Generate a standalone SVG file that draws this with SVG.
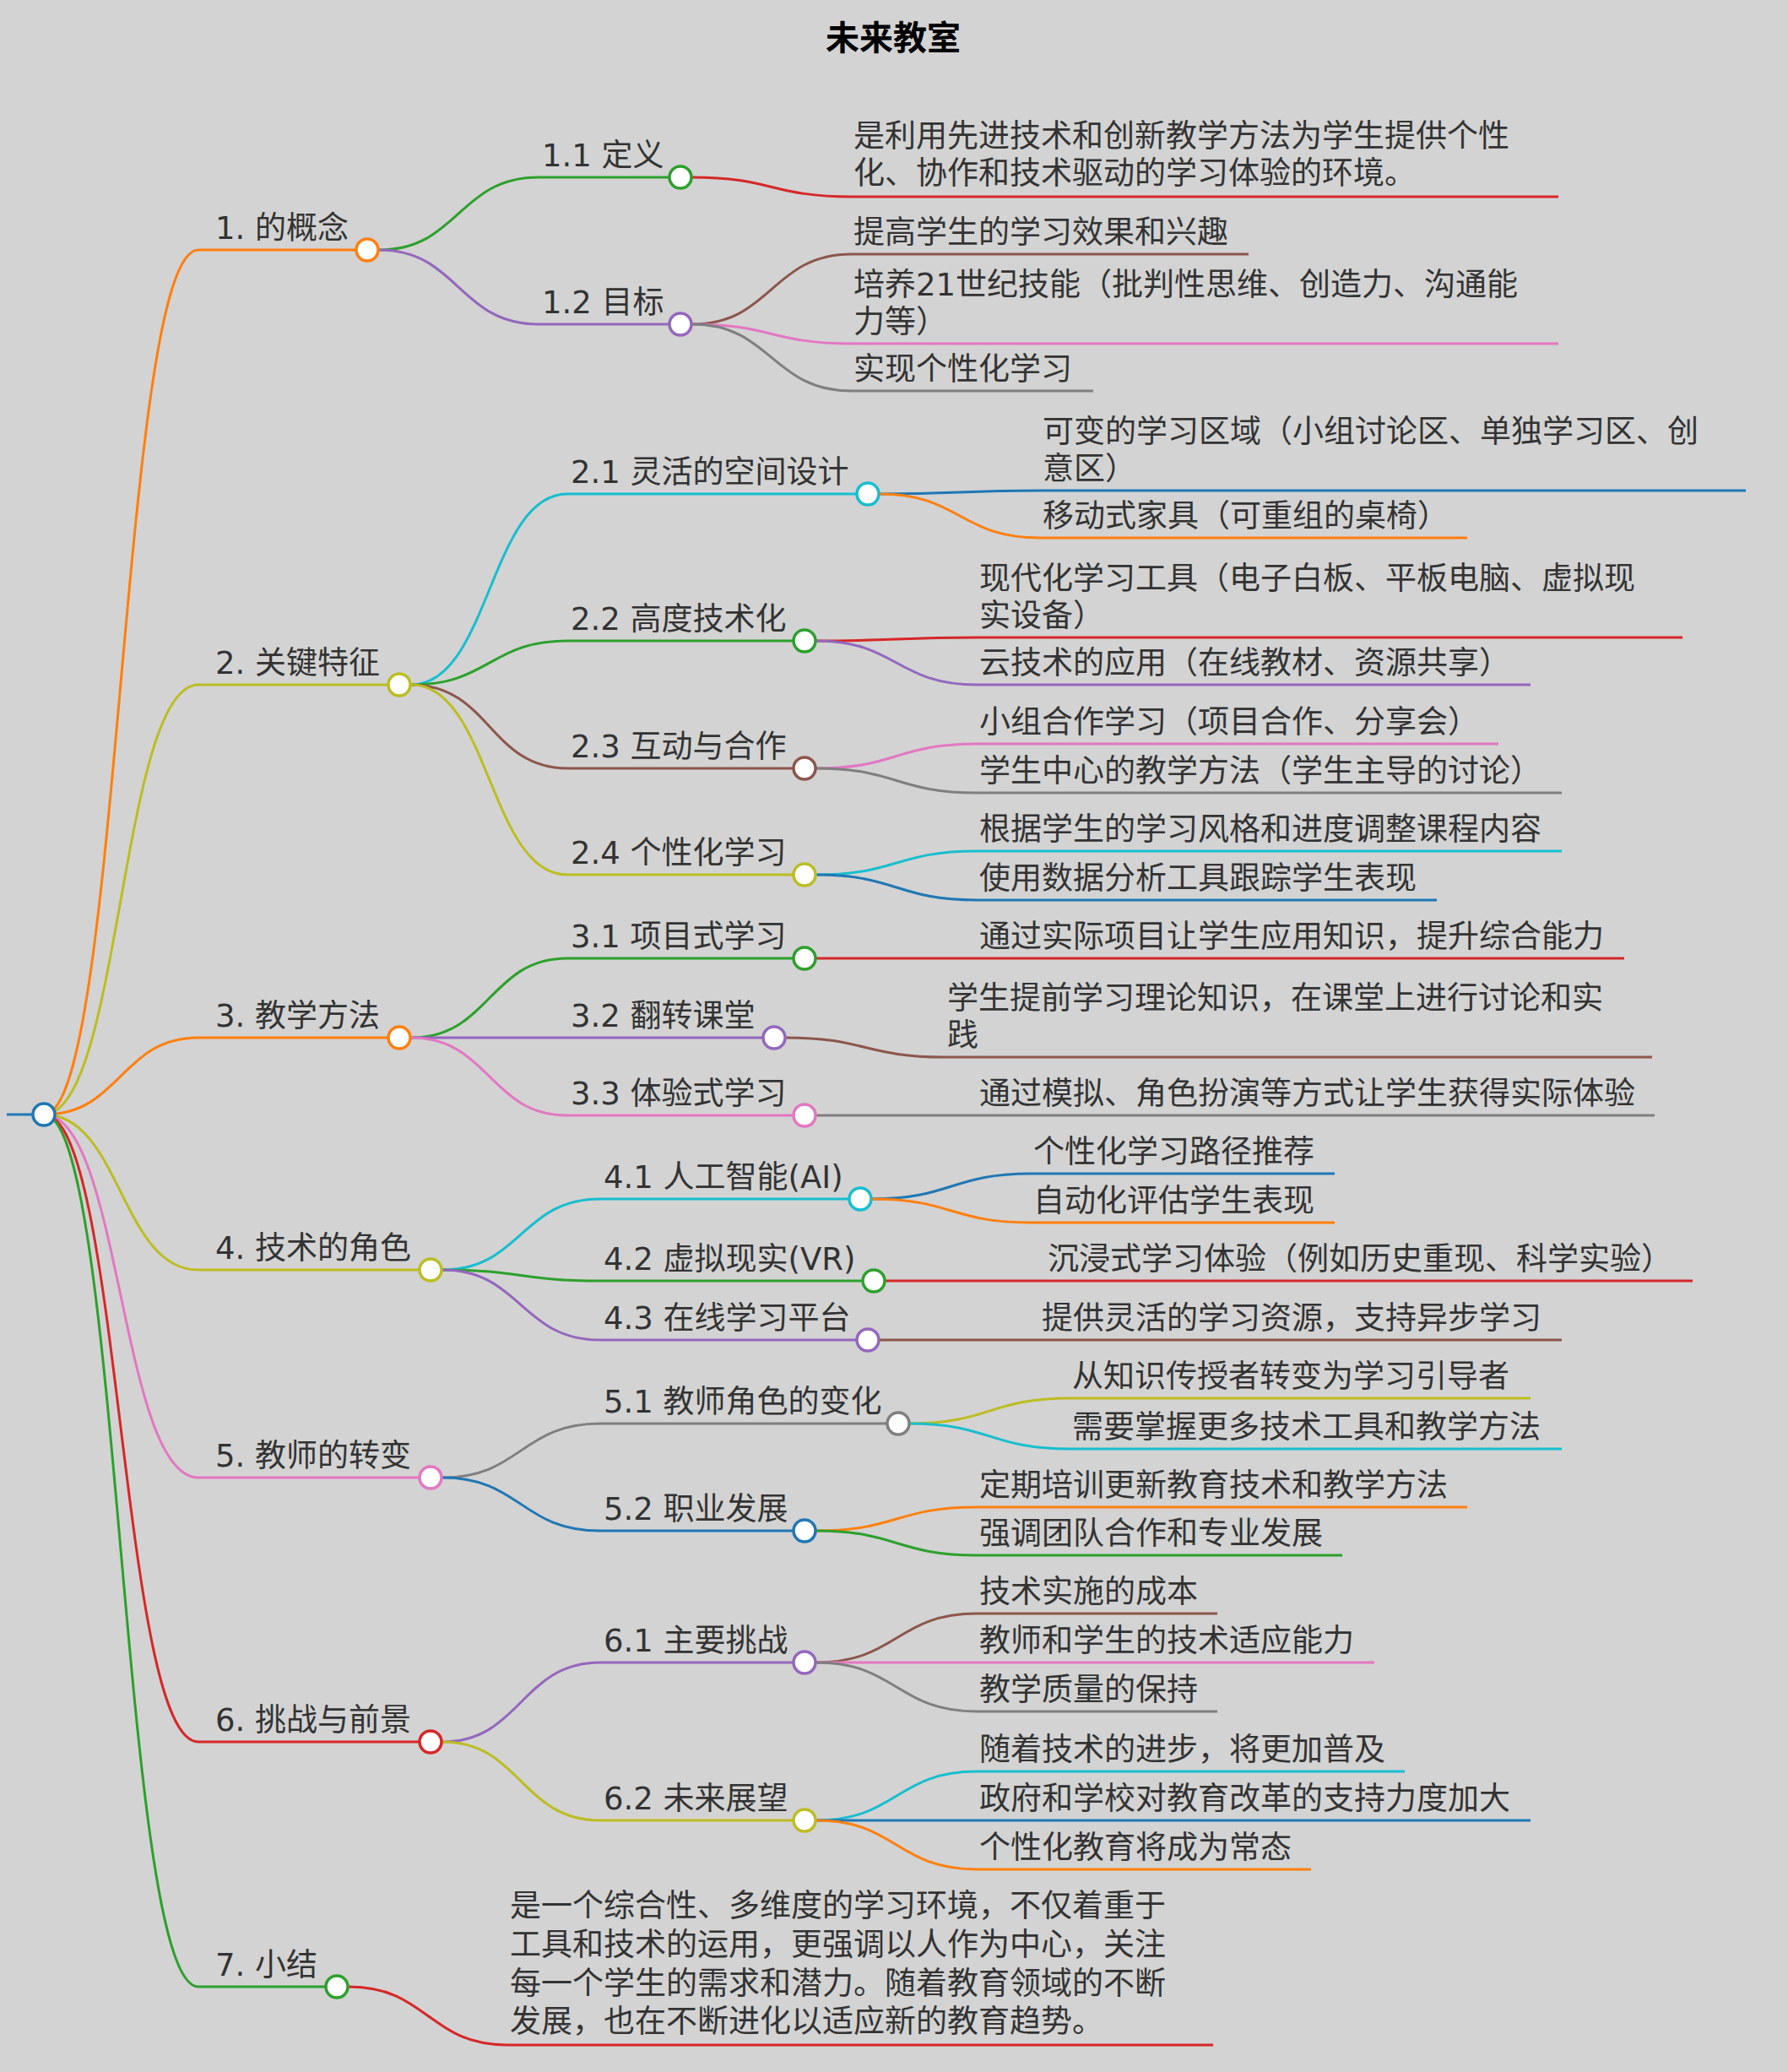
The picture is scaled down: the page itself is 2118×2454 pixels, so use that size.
<svg xmlns="http://www.w3.org/2000/svg" width="2118" height="2454" viewBox="0 0 2118 2454">
<style>
text{font-family:"DejaVu Sans","Noto Sans CJK SC",sans-serif;font-size:37px;fill:#333}
.t{font-size:40px;font-weight:bold;fill:#000;text-anchor:middle}
path{fill:none;stroke-width:3}
circle{fill:#fff;stroke-width:3.5}
.bl{stroke:#1f77b4}.or{stroke:#ff7f0e}.gr{stroke:#2ca02c}.rd{stroke:#d62728}.pu{stroke:#9467bd}.br{stroke:#8c564b}.pk{stroke:#e377c2}.gy{stroke:#7f7f7f}.ol{stroke:#bcbd22}.cy{stroke:#17becf}
</style>
<rect width="2118" height="2454" fill="#d3d3d3"/>
<text class="t" x="1058" y="59">未来教室</text>
<g id="connectors">
<path class="bl" d="M8,1320 H38"/>
<path class="or" d="M52,1320 C143,1320 143,296 235,296 H421"/>
<path class="ol" d="M52,1320 C143,1320 143,811 235,811 H459"/>
<path class="or" d="M52,1320 C143,1320 143,1229 235,1229 H459"/>
<path class="ol" d="M52,1320 C143,1320 143,1504 235,1504 H496"/>
<path class="pk" d="M52,1320 C143,1320 143,1750 235,1750 H496"/>
<path class="rd" d="M52,1320 C143,1320 143,2063 235,2063 H496"/>
<path class="gr" d="M52,1320 C143,1320 143,2353 235,2353 H385"/>
<path class="gr" d="M449,296 C543,296 543,210 638,210 H792"/>
<path class="pu" d="M449,296 C543,296 543,384 638,384 H792"/>
<path class="rd" d="M820,210 C914,210 914,233 1009,233 H1846"/>
<path class="br" d="M820,384 C914,384 914,301 1009,301 H1479"/>
<path class="pk" d="M820,384 C914,384 914,407 1009,407 H1846"/>
<path class="gy" d="M820,384 C914,384 914,463 1009,463 H1295"/>
<path class="cy" d="M487,811 C580,811 580,585 672,585 H1014"/>
<path class="gr" d="M487,811 C580,811 580,759 672,759 H939"/>
<path class="br" d="M487,811 C580,811 580,910 672,910 H939"/>
<path class="ol" d="M487,811 C580,811 580,1036 672,1036 H939"/>
<path class="bl" d="M1042,585 C1137,585 1137,581 1232,581 H2068"/>
<path class="or" d="M1042,585 C1137,585 1137,637 1232,637 H1738"/>
<path class="rd" d="M967,759 C1062,759 1062,755 1157,755 H1993"/>
<path class="pu" d="M967,759 C1062,759 1062,811 1157,811 H1813"/>
<path class="pk" d="M967,910 C1062,910 1062,881 1157,881 H1775"/>
<path class="gy" d="M967,910 C1062,910 1062,939 1157,939 H1850"/>
<path class="cy" d="M967,1036 C1062,1036 1062,1008 1157,1008 H1850"/>
<path class="bl" d="M967,1036 C1062,1036 1062,1066 1157,1066 H1702"/>
<path class="gr" d="M487,1229 C580,1229 580,1135 672,1135 H939"/>
<path class="pu" d="M487,1229 H903"/>
<path class="pk" d="M487,1229 C580,1229 580,1321 672,1321 H939"/>
<path class="rd" d="M967,1135 H1924"/>
<path class="br" d="M931,1229 C1025,1229 1025,1252 1119,1252 H1957"/>
<path class="gy" d="M967,1321 H1960"/>
<path class="cy" d="M524,1504 C617,1504 617,1420 711,1420 H1005"/>
<path class="gr" d="M524,1504 C617,1504 617,1517 711,1517 H1021"/>
<path class="pu" d="M524,1504 C617,1504 617,1587 711,1587 H1014"/>
<path class="bl" d="M1033,1420 C1127,1420 1127,1390 1221,1390 H1581"/>
<path class="or" d="M1033,1420 C1127,1420 1127,1448 1221,1448 H1581"/>
<path class="rd" d="M1049,1517 H2005"/>
<path class="br" d="M1042,1587 H1850"/>
<path class="gy" d="M524,1750 C617,1750 617,1686 711,1686 H1050"/>
<path class="bl" d="M524,1750 C617,1750 617,1813 711,1813 H939"/>
<path class="ol" d="M1078,1686 C1172,1686 1172,1656 1267,1656 H1813"/>
<path class="cy" d="M1078,1686 C1172,1686 1172,1716 1267,1716 H1850"/>
<path class="or" d="M967,1813 C1062,1813 1062,1785 1157,1785 H1738"/>
<path class="gr" d="M967,1813 C1062,1813 1062,1842 1157,1842 H1590"/>
<path class="pu" d="M524,2063 C617,2063 617,1969 711,1969 H939"/>
<path class="ol" d="M524,2063 C617,2063 617,2156 711,2156 H939"/>
<path class="br" d="M967,1969 C1062,1969 1062,1911 1157,1911 H1442"/>
<path class="pk" d="M967,1969 H1628"/>
<path class="gy" d="M967,1969 C1062,1969 1062,2027 1157,2027 H1442"/>
<path class="cy" d="M967,2156 C1062,2156 1062,2098 1157,2098 H1664"/>
<path class="bl" d="M967,2156 H1813"/>
<path class="or" d="M967,2156 C1062,2156 1062,2214 1157,2214 H1553"/>
<path class="rd" d="M413,2353 C507,2353 507,2422 601,2422 H1437"/>
</g>
<g id="root"><circle class="bl" cx="52" cy="1320" r="13"/></g>
<g id="n1"><text x="255" y="283">1. 的概念</text><circle class="or" cx="435" cy="296" r="13"/></g>
<g id="n1-1"><text x="642" y="197">1.1 定义</text><circle class="gr" cx="806" cy="210" r="13"/></g>
<g id="n1-1-1"><text x="1011" y="174">是利用先进技术和创新教学方法为学生提供个性</text><text x="1011" y="218">化、协作和技术驱动的学习体验的环境。</text></g>
<g id="n1-2"><text x="642" y="371">1.2 目标</text><circle class="pu" cx="806" cy="384" r="13"/></g>
<g id="n1-2-1"><text x="1011" y="288">提高学生的学习效果和兴趣</text></g>
<g id="n1-2-2"><text x="1011" y="350">培养21世纪技能（批判性思维、创造力、沟通能</text><text x="1011" y="394">力等）</text></g>
<g id="n1-2-3"><text x="1011" y="450">实现个性化学习</text></g>
<g id="n2"><text x="255" y="798">2. 关键特征</text><circle class="ol" cx="473" cy="811" r="13"/></g>
<g id="n2-1"><text x="676" y="572">2.1 灵活的空间设计</text><circle class="cy" cx="1028" cy="585" r="13"/></g>
<g id="n2-1-1"><text x="1235" y="524">可变的学习区域（小组讨论区、单独学习区、创</text><text x="1235" y="568">意区）</text></g>
<g id="n2-1-2"><text x="1235" y="624">移动式家具（可重组的桌椅）</text></g>
<g id="n2-2"><text x="676" y="746">2.2 高度技术化</text><circle class="gr" cx="953" cy="759" r="13"/></g>
<g id="n2-2-1"><text x="1160" y="698">现代化学习工具（电子白板、平板电脑、虚拟现</text><text x="1160" y="742">实设备）</text></g>
<g id="n2-2-2"><text x="1160" y="798">云技术的应用（在线教材、资源共享）</text></g>
<g id="n2-3"><text x="676" y="897">2.3 互动与合作</text><circle class="br" cx="953" cy="910" r="13"/></g>
<g id="n2-3-1"><text x="1160" y="868">小组合作学习（项目合作、分享会）</text></g>
<g id="n2-3-2"><text x="1160" y="926">学生中心的教学方法（学生主导的讨论）</text></g>
<g id="n2-4"><text x="676" y="1023">2.4 个性化学习</text><circle class="ol" cx="953" cy="1036" r="13"/></g>
<g id="n2-4-1"><text x="1160" y="995">根据学生的学习风格和进度调整课程内容</text></g>
<g id="n2-4-2"><text x="1160" y="1053">使用数据分析工具跟踪学生表现</text></g>
<g id="n3"><text x="255" y="1216">3. 教学方法</text><circle class="or" cx="473" cy="1229" r="13"/></g>
<g id="n3-1"><text x="676" y="1122">3.1 项目式学习</text><circle class="gr" cx="953" cy="1135" r="13"/></g>
<g id="n3-1-1"><text x="1160" y="1122">通过实际项目让学生应用知识，提升综合能力</text></g>
<g id="n3-2"><text x="676" y="1216">3.2 翻转课堂</text><circle class="pu" cx="917" cy="1229" r="13"/></g>
<g id="n3-2-1"><text x="1122" y="1195">学生提前学习理论知识，在课堂上进行讨论和实</text><text x="1122" y="1239">践</text></g>
<g id="n3-3"><text x="676" y="1308">3.3 体验式学习</text><circle class="pk" cx="953" cy="1321" r="13"/></g>
<g id="n3-3-1"><text x="1160" y="1308">通过模拟、角色扮演等方式让学生获得实际体验</text></g>
<g id="n4"><text x="255" y="1491">4. 技术的角色</text><circle class="ol" cx="510" cy="1504" r="13"/></g>
<g id="n4-1"><text x="715" y="1407">4.1 人工智能(AI)</text><circle class="cy" cx="1019" cy="1420" r="13"/></g>
<g id="n4-1-1"><text x="1224" y="1377">个性化学习路径推荐</text></g>
<g id="n4-1-2"><text x="1224" y="1435">自动化评估学生表现</text></g>
<g id="n4-2"><text x="715" y="1504">4.2 虚拟现实(VR)</text><circle class="gr" cx="1035" cy="1517" r="13"/></g>
<g id="n4-2-1"><text x="1241" y="1504">沉浸式学习体验（例如历史重现、科学实验）</text></g>
<g id="n4-3"><text x="715" y="1574">4.3 在线学习平台</text><circle class="pu" cx="1028" cy="1587" r="13"/></g>
<g id="n4-3-1"><text x="1234" y="1574">提供灵活的学习资源，支持异步学习</text></g>
<g id="n5"><text x="255" y="1737">5. 教师的转变</text><circle class="pk" cx="510" cy="1750" r="13"/></g>
<g id="n5-1"><text x="715" y="1673">5.1 教师角色的变化</text><circle class="gy" cx="1064" cy="1686" r="13"/></g>
<g id="n5-1-1"><text x="1270" y="1643">从知识传授者转变为学习引导者</text></g>
<g id="n5-1-2"><text x="1270" y="1703">需要掌握更多技术工具和教学方法</text></g>
<g id="n5-2"><text x="715" y="1800">5.2 职业发展</text><circle class="bl" cx="953" cy="1813" r="13"/></g>
<g id="n5-2-1"><text x="1160" y="1772">定期培训更新教育技术和教学方法</text></g>
<g id="n5-2-2"><text x="1160" y="1829">强调团队合作和专业发展</text></g>
<g id="n6"><text x="255" y="2050">6. 挑战与前景</text><circle class="rd" cx="510" cy="2063" r="13"/></g>
<g id="n6-1"><text x="715" y="1956">6.1 主要挑战</text><circle class="pu" cx="953" cy="1969" r="13"/></g>
<g id="n6-1-1"><text x="1160" y="1898">技术实施的成本</text></g>
<g id="n6-1-2"><text x="1160" y="1956">教师和学生的技术适应能力</text></g>
<g id="n6-1-3"><text x="1160" y="2014">教学质量的保持</text></g>
<g id="n6-2"><text x="715" y="2143">6.2 未来展望</text><circle class="ol" cx="953" cy="2156" r="13"/></g>
<g id="n6-2-1"><text x="1160" y="2085">随着技术的进步，将更加普及</text></g>
<g id="n6-2-2"><text x="1160" y="2143">政府和学校对教育改革的支持力度加大</text></g>
<g id="n6-2-3"><text x="1160" y="2201">个性化教育将成为常态</text></g>
<g id="n7"><text x="255" y="2340">7. 小结</text><circle class="gr" cx="399" cy="2353" r="13"/></g>
<g id="n7-1"><text x="604" y="2270">是一个综合性、多维度的学习环境，不仅着重于</text><text x="604" y="2316">工具和技术的运用，更强调以人作为中心，关注</text><text x="604" y="2362">每一个学生的需求和潜力。随着教育领域的不断</text><text x="604" y="2407">发展，也在不断进化以适应新的教育趋势。</text></g>
</svg>
